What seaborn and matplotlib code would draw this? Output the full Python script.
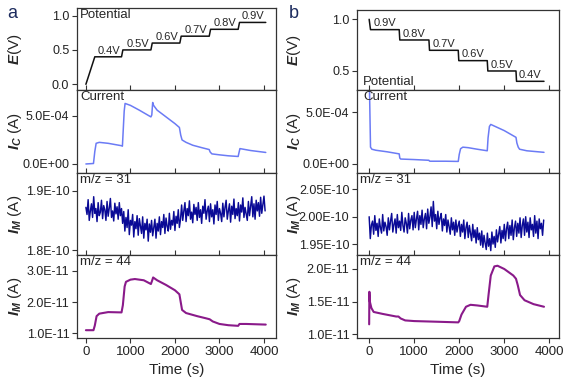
import numpy as np
import pandas as pd
import matplotlib
matplotlib.use('Agg')
import matplotlib.pyplot as plt
from matplotlib.ticker import FuncFormatter
import seaborn as sns

# ── data ───────────────────────────────────────────────────────
# potential steps
a_pot_t = [0, 200, 800, 830, 1460, 1490, 2110, 2140, 2770, 2800, 3420, 3450, 4040]
a_pot_E = [0.0, 0.4, 0.4, 0.5, 0.5, 0.6, 0.6, 0.7, 0.7, 0.8, 0.8, 0.9, 0.9]
b_pot_t = [0, 30, 667, 680, 1327, 1340, 1978, 1990, 2622, 2635, 3260, 3272, 3882]
b_pot_E = [1.0, 0.9, 0.9, 0.8, 0.8, 0.7, 0.7, 0.6, 0.6, 0.5, 0.5, 0.4, 0.4]
a_steps = ['0.4V', '0.5V', '0.6V', '0.7V', '0.8V', '0.9V']
b_steps = ['0.9V', '0.8V', '0.7V', '0.6V', '0.5V', '0.4V']

# cell current, 1e-4 A
a_cur_t = [0, 170, 200, 230, 300, 500, 800, 820, 860, 880, 1000, 1200, 1460, 1480,
           1500, 1520, 1600, 1800, 2000, 2100, 2130, 2160, 2250, 2400, 2600, 2770,
           2790, 2830, 3000, 3200, 3420, 3440, 3460, 3700, 4040]
a_cur_I = [0.0, 0.05, 1.3, 2.15, 2.25, 2.15, 1.9, 1.85, 5.5, 6.3, 6.1, 5.6, 4.9, 5.1,
           6.4, 6.1, 5.6, 4.9, 4.2, 3.8, 3.0, 2.5, 2.25, 1.95, 1.7, 1.5,
           1.25, 1.05, 0.95, 0.85, 0.78, 1.2, 1.6, 1.4, 1.2]
b_cur_t = [0, 30, 60, 150, 400, 667, 680, 700, 1000, 1327, 1340, 1360, 1700, 1978,
           2000, 2030, 2080, 2200, 2400, 2622, 2640, 2670, 2700, 2800, 3000, 3260,
           3280, 3310, 3340, 3500, 3882]
b_cur_I = [9.0, 1.6, 1.4, 1.3, 1.15, 0.95, 0.55, 0.45, 0.4, 0.33, 0.25, 0.24, 0.24, 0.22,
           0.9, 1.45, 1.6, 1.55, 1.4, 1.25, 2.5, 3.6, 3.8, 3.6, 3.2, 2.55,
           2.0, 1.6, 1.4, 1.25, 1.1]

# m/z = 31 ion current, 1e-10 A (sampled every 25 s)
a_m31 = [1.872, 1.860, 1.885, 1.850, 1.866, 1.878, 1.855, 1.890, 1.862, 1.870, 1.848, 1.880,
         1.858, 1.864, 1.884, 1.853, 1.875, 1.868, 1.850, 1.882, 1.857, 1.871, 1.887, 1.855,
         1.866, 1.849, 1.879, 1.861, 1.873, 1.852, 1.880, 1.858, 1.870,
         1.845, 1.865, 1.832, 1.855, 1.838, 1.868, 1.826, 1.850, 1.842, 1.860, 1.822, 1.848,
         1.836, 1.858, 1.825, 1.853, 1.840, 1.828, 1.856, 1.820, 1.845, 1.834, 1.852, 1.815,
         1.844, 1.830, 1.850, 1.824,
         1.838, 1.852, 1.820, 1.845, 1.832, 1.856, 1.826, 1.848, 1.838, 1.860, 1.828, 1.854,
         1.840, 1.832, 1.862, 1.835, 1.850, 1.842, 1.865, 1.833, 1.857, 1.845, 1.868, 1.838, 1.852,
         1.876, 1.850, 1.866, 1.880, 1.848, 1.870, 1.858, 1.883, 1.852, 1.864, 1.846, 1.877,
         1.860, 1.872, 1.850, 1.880, 1.855, 1.868, 1.845, 1.874,
         1.862, 1.885, 1.852, 1.866, 1.874, 1.848, 1.878, 1.856, 1.868, 1.844, 1.876, 1.860,
         1.882, 1.850, 1.870, 1.862, 1.848, 1.879, 1.856, 1.872,
         1.884, 1.852, 1.866, 1.878, 1.847, 1.874, 1.860, 1.886, 1.853, 1.870, 1.858, 1.880,
         1.849, 1.876, 1.864, 1.888, 1.855, 1.872, 1.861, 1.850,
         1.882, 1.858, 1.874, 1.890, 1.856, 1.878, 1.852, 1.884, 1.866, 1.880, 1.857, 1.889,
         1.862, 1.876, 1.891, 1.866]
b_m31 = [2.000, 1.960, 1.985, 1.992, 1.968, 2.002, 1.975, 1.988, 1.964, 1.996, 1.980, 1.970,
         2.004, 1.974, 1.990, 1.982, 1.966, 1.998, 1.976, 1.992,
         2.006, 1.972, 1.986, 1.996, 1.970, 2.004, 1.980, 1.992, 1.975, 2.008, 1.984, 1.972,
         1.998, 1.988, 1.970, 2.006, 1.978, 1.994, 2.002, 1.976,
         2.008, 1.980, 1.996, 2.010, 1.976, 2.002, 1.986, 2.012, 1.980, 1.996, 2.006, 1.978,
         2.014, 1.988, 2.000, 2.018, 1.982, 2.028, 1.992, 2.004,
         1.978, 2.010, 1.986, 1.998, 2.006, 1.974, 1.996, 1.984, 2.004, 1.972, 1.994, 1.982,
         1.968, 1.998, 1.976, 1.990, 1.966, 1.994, 1.972, 1.984,
         1.992, 1.964, 1.986, 1.972, 1.994, 1.960, 1.980, 1.990, 1.962, 1.984, 1.970, 1.956,
         1.986, 1.962, 1.976, 1.952, 1.980, 1.958, 1.970, 1.948,
         1.974, 1.944, 1.966, 1.952, 1.940, 1.970, 1.946, 1.960, 1.938, 1.972, 1.950, 1.964,
         1.944, 1.976, 1.954, 1.968, 1.982, 1.952, 1.975, 1.960,
         1.986, 1.956, 1.978, 1.990, 1.960, 1.984, 1.966, 1.994, 1.958, 1.980, 1.992, 1.964,
         1.988, 1.970, 1.998, 1.962, 1.984, 1.996, 1.966, 2.000,
         1.972, 1.990, 1.962, 1.998, 1.976, 1.986, 1.964, 2.002, 1.970, 1.992, 1.960, 1.996,
         1.978, 1.988, 1.966, 1.994]
a_m31_t = np.arange(len(a_m31)) * 25
b_m31_t = np.arange(len(b_m31)) * 25

# m/z = 44 ion current, 1e-11 A
a_m44_t = [0, 170, 200, 240, 300, 500, 800, 830, 870, 900, 1000, 1100, 1300, 1460, 1490,
           1510, 1600, 1800, 2000, 2100, 2130, 2160, 2250, 2500, 2700, 2780, 2850, 3000,
           3200, 3420, 3450, 3600, 4040]
a_m44_I = [1.1, 1.1, 1.25, 1.55, 1.63, 1.68, 1.67, 1.9, 2.5, 2.65, 2.72, 2.74, 2.7, 2.58, 2.7,
           2.79, 2.7, 2.55, 2.38, 2.25, 2.0, 1.75, 1.65, 1.55, 1.48, 1.45, 1.38, 1.3,
           1.26, 1.24, 1.3, 1.3, 1.28]
b_m44_t = [0, 5, 15, 50, 100, 300, 600, 650, 700, 800, 1000, 1500, 1978, 2000, 2050, 2150,
           2250, 2400, 2622, 2650, 2700, 2780, 2850, 3000, 3200, 3260, 3300, 3350, 3450,
           3650, 3882]
b_m44_I = [1.15, 1.65, 1.5, 1.4, 1.34, 1.31, 1.27, 1.27, 1.24, 1.21, 1.2, 1.19, 1.18, 1.2,
           1.3, 1.42, 1.45, 1.44, 1.42, 1.6, 1.9, 2.04, 2.05, 2.0, 1.9, 1.85, 1.75, 1.6,
           1.52, 1.46, 1.42]

# ── style ──────────────────────────────────────────────────────
sns.set_theme(style='ticks')
plt.rcParams['font.family'] = ['Liberation Sans', 'DejaVu Sans']
plt.rcParams['mathtext.fontset'] = 'custom'
plt.rcParams['mathtext.it'] = 'Liberation Sans:italic:bold'
plt.rcParams['mathtext.rm'] = 'Liberation Sans'
plt.rcParams['axes.edgecolor'] = '#333333'
plt.rcParams['axes.linewidth'] = 0.9

C_POT, C_CUR, C_M31, C_M44 = '#111111', '#6b7bf5', '#0a0a96', '#8a1a8a'

fig = plt.figure(figsize=(5.69, 3.79), dpi=100)
rows_px = [(8, 90), (90, 173), (173, 255), (255, 338)]
cols_px = [(77, 276), (357, 559)]
H, W = 379.0, 569.0

axes = [[None] * 4 for _ in range(2)]
for c, (x0, x1) in enumerate(cols_px):
    for r, (y0, y1) in enumerate(rows_px):
        top = y0 if not (c == 1 and r == 0) else 10
        axes[c][r] = fig.add_axes([x0 / W, 1 - y1 / H, (x1 - x0) / W, (y1 - top) / H])

def sci(fmt):
    return FuncFormatter(lambda v, p: format(v, fmt))

def draw(ax, t, y, color, lw=1.1):
    sns.lineplot(x=t, y=y, ax=ax, color=color, lw=lw, estimator=None, sort=False)

def tag(ax, s, x=0.015, y=0.985, va='top'):
    ax.text(x, y, s, transform=ax.transAxes, ha='left', va=va, fontsize=9.5)

# panel a
ax = axes[0][0]
draw(ax, a_pot_t, a_pot_E, C_POT)
for k, lab in enumerate(a_steps):
    mid = (a_pot_t[2 * k + 1] + a_pot_t[2 * k + 2]) / 2 + 15
    ax.text(mid, a_pot_E[2 * k + 1] + 0.015, lab, ha='center', va='bottom', fontsize=8)
ax.set_ylim(-0.083, 1.11)
ax.set_yticks([0, 0.5, 1.0])
ax.yaxis.set_major_formatter(sci('.1f'))
tag(ax, 'Potential')
ax.set_ylabel(r'$E$(V)')

ax = axes[0][1]
draw(ax, a_cur_t, np.array(a_cur_I) * 1e-4, C_CUR)
ax.set_ylim(-0.94e-4, 7.7e-4)
ax.set_yticks([0, 5e-4])
ax.yaxis.set_major_formatter(sci('.1E'))
tag(ax, 'Current')
ax.set_ylabel(r'$I_C$ (A)')

ax = axes[0][2]
draw(ax, a_m31_t, np.array(a_m31) * 1e-10, C_M31, lw=1.05)
ax.set_ylim(1.7916e-10, 1.930e-10)
ax.set_yticks([1.8e-10, 1.9e-10])
ax.yaxis.set_major_formatter(sci('.1E'))
tag(ax, 'm/z = 31')
ax.set_ylabel(r'$I_M$ (A)')

ax = axes[0][3]
draw(ax, a_m44_t, np.array(a_m44_I) * 1e-11, C_M44, lw=1.5)
ax.set_ylim(0.85e-11, 3.51e-11)
ax.set_yticks([1e-11, 2e-11, 3e-11])
ax.yaxis.set_major_formatter(sci('.1E'))
tag(ax, 'm/z = 44')
ax.set_ylabel(r'$I_M$ (A)')

# panel b
ax = axes[1][0]
draw(ax, b_pot_t, b_pot_E, C_POT)
for k, lab in enumerate(b_steps):
    mid = (b_pot_t[2 * k + 1] + b_pot_t[2 * k + 2]) / 2
    ax.text(mid, b_pot_E[2 * k + 1] + 0.012, lab, ha='center', va='bottom', fontsize=8)
ax.set_ylim(0.316, 1.09)
ax.set_yticks([0.5, 1.0])
ax.yaxis.set_major_formatter(sci('.1f'))
tag(ax, 'Potential', x=0.03, y=0.03, va='bottom')
ax.set_ylabel(r'$E$(V)')

ax = axes[1][1]
draw(ax, b_cur_t, np.array(b_cur_I) * 1e-4, C_CUR)
ax.set_ylim(-0.9e-4, 7.13e-4)
ax.set_yticks([0, 5e-4])
ax.yaxis.set_major_formatter(sci('.1E'))
tag(ax, 'Current', x=0.03)
ax.set_ylabel(r'$I_C$ (A)')

ax = axes[1][2]
draw(ax, b_m31_t, np.array(b_m31) * 1e-10, C_M31, lw=1.05)
ax.set_ylim(1.930e-10, 2.080e-10)
ax.set_yticks([1.95e-10, 2.00e-10, 2.05e-10])
ax.yaxis.set_major_formatter(sci('.2E'))
tag(ax, 'm/z = 31')
ax.set_ylabel(r'$I_M$ (A)')

ax = axes[1][3]
draw(ax, b_m44_t, np.array(b_m44_I) * 1e-11, C_M44, lw=1.5)
ax.set_ylim(0.94e-11, 2.215e-11)
ax.set_yticks([1.0e-11, 1.5e-11, 2.0e-11])
ax.yaxis.set_major_formatter(sci('.1E'))
tag(ax, 'm/z = 44')
ax.set_ylabel(r'$I_M$ (A)')

# shared axis cosmetics
xlims = [(-200, 4270), (-270, 4215)]
for c in range(2):
    for r in range(4):
        ax = axes[c][r]
        ax.set_xlim(*xlims[c])
        ax.set_xticks([0, 1000, 2000, 3000, 4000])
        ax.tick_params(axis='y', direction='out', length=3.5, width=0.8,
                       labelsize=9, colors='#333333', labelcolor='#222222', pad=2)
        ax.tick_params(axis='x', direction='in' if r < 3 else 'out', length=3.5, width=0.8,
                       labelsize=9.5, colors='#333333', labelcolor='#222222', pad=2)
        ax.set_xlabel('')
        if r < 3:
            ax.set_xticklabels([])
        ax.yaxis.label.set_fontsize(11)
        ax.yaxis.set_label_coords(-0.265 if c == 0 else -0.265, 0.5)
    axes[c][3].set_xlabel('Time (s)', fontsize=11)

fig.text(7 / W, 1 - 13 / H, 'a', fontsize=13, color='#1c2b5e', va='center', ha='left')
fig.text(289 / W, 1 - 13 / H, 'b', fontsize=13, color='#1c2b5e', va='center', ha='left')

fig.savefig('out.png', dpi=100)
